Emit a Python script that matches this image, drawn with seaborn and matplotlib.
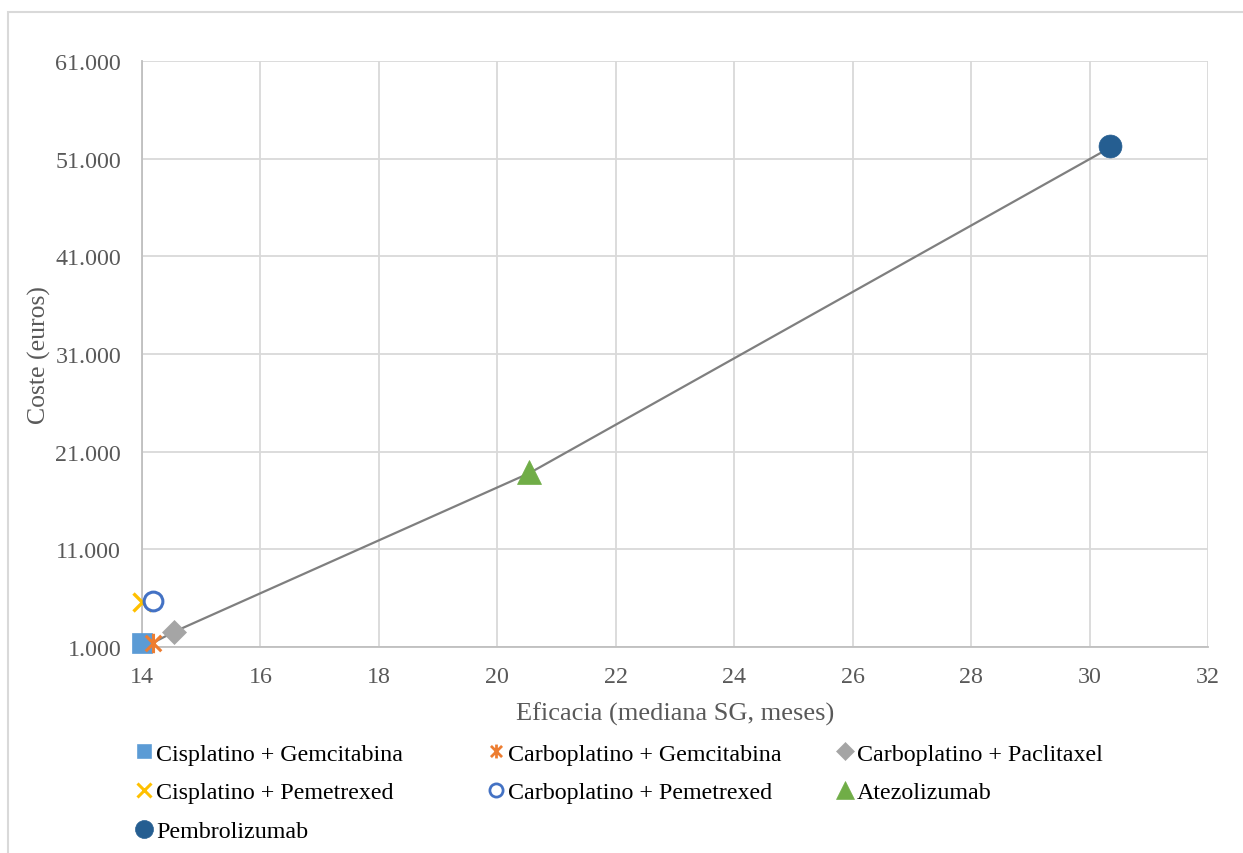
import matplotlib
matplotlib.use("Agg")
import matplotlib.pyplot as plt
from matplotlib.lines import Line2D
from matplotlib.patches import Rectangle
from matplotlib.path import Path
from matplotlib.ticker import FuncFormatter, FixedLocator
import seaborn as sns
import pandas as pd

# Treatments: median overall survival (months) and cost (euros)
treatments = [
    "Cisplatino + Gemcitabina",
    "Carboplatino + Gemcitabina",
    "Carboplatino + Paclitaxel",
    "Cisplatino + Pemetrexed",
    "Carboplatino + Pemetrexed",
    "Atezolizumab",
    "Pembrolizumab",
]
efficacy = [14.0, 14.19, 14.54, 14.0, 14.19, 20.54, 30.35]
cost = [1450, 1400, 2550, 5600, 5700, 18900, 52300]

# Efficiency frontier
frontier_x = [14.08, 14.54, 20.54, 30.22]
frontier_y = [1100, 2550, 18800, 51700]

x_ticks = [14, 16, 18, 20, 22, 24, 26, 28, 30, 32]
y_ticks = [1000, 11000, 21000, 31000, 41000, 51000, 61000]

# Excel-style "star" marker: an X crossed by a vertical bar
star = Path(
    [(-1, -1), (1, 1), (-1, 1), (1, -1), (0, -1.25), (0, 1.25)],
    [Path.MOVETO, Path.LINETO, Path.MOVETO, Path.LINETO, Path.MOVETO, Path.LINETO],
)

styles = {
    "Cisplatino + Gemcitabina": dict(marker="s", face="#5B9BD5", edge="#5B9BD5", size=14, lw=0.5, lsize=9.5),
    "Carboplatino + Gemcitabina": dict(marker=star, face="none", edge="#ED7D31", size=14, lw=2.2, lsize=10),
    "Carboplatino + Paclitaxel": dict(marker="D", face="#A5A5A5", edge="#A5A5A5", size=12.5, lw=0.5, lsize=9.5),
    "Cisplatino + Pemetrexed": dict(marker="x", face="#FFC000", edge="#FFC000", size=13.5, lw=2.4, lsize=9.5),
    "Carboplatino + Pemetrexed": dict(marker="o", face="white", edge="#4472C4", size=13.5, lw=2.2, lsize=9.5),
    "Atezolizumab": dict(marker="^", face="#70AD47", edge="#70AD47", size=17, lw=0.5, lsize=13),
    "Pembrolizumab": dict(marker="o", face="#255E91", edge="#255E91", size=16.5, lw=0.5, lsize=13),
}

sns.set_theme(style="white")
plt.rcParams["font.family"] = ["Liberation Serif", "DejaVu Serif"]

fig = plt.figure(figsize=(12.43, 8.54), dpi=100)
W, H = 1243, 854
ax = fig.add_axes([142 / W, 1 - 648 / H, (1208 - 142) / W, (648 - 62) / H])

df = pd.DataFrame({"x": frontier_x, "y": frontier_y})
sns.lineplot(data=df, x="x", y="y", sort=False, color="#7F7F7F", lw=1.6, ax=ax, zorder=3)

for name, xv, yv in zip(treatments, efficacy, cost):
    st = styles[name]
    ax.plot([xv], [yv], linestyle="none", marker=st["marker"], markersize=st["size"],
            markerfacecolor=st["face"], markeredgecolor=st["edge"],
            markeredgewidth=st["lw"], zorder=4, clip_on=False)

ax.set_xlim(14, 32)
ax.set_ylim(1000, 61000)
ax.xaxis.set_major_locator(FixedLocator(x_ticks))
ax.yaxis.set_major_locator(FixedLocator(y_ticks))
ax.yaxis.set_major_formatter(FuncFormatter(lambda v, p: f"{v:,.0f}".replace(",", ".")))
ax.grid(True, color="#D9D9D9", lw=1.3)
for side in ["top", "right"]:
    ax.spines[side].set_visible(False)
for side in ["left", "bottom"]:
    ax.spines[side].set_color("#BFBFBF")
    ax.spines[side].set_linewidth(1.3)
ax.tick_params(axis="both", length=0, labelsize=17.3, labelcolor="#595959")
ax.tick_params(axis="x", pad=14)
ax.tick_params(axis="y", pad=15)

ax.set_xlabel("Eficacia (mediana SG, meses)", fontsize=19, color="#595959", labelpad=10)
ax.set_ylabel("Coste (euros)", fontsize=18.5, color="#595959", labelpad=3)

# Legend laid out in three evenly spaced columns
columns = [
    ["Cisplatino + Gemcitabina", "Cisplatino + Pemetrexed", "Pembrolizumab"],
    ["Carboplatino + Gemcitabina", "Carboplatino + Pemetrexed"],
    ["Carboplatino + Paclitaxel", "Atezolizumab"],
]
col_x = [137, 489, 838]
for cx, names in zip(col_x, columns):
    handles = []
    for n in names:
        st = styles[n]
        handles.append(Line2D([], [], linestyle="none", marker=st["marker"],
                              markersize=st["lsize"], markerfacecolor=st["face"],
                              markeredgecolor=st["edge"], markeredgewidth=st["lw"] * 0.9))
    fig.legend(handles, names, loc="upper left", bbox_to_anchor=(cx / W, 1 - 744 / H),
               frameon=False, fontsize=17.3, handlelength=0.6, handletextpad=0.2,
               labelspacing=0.7, borderpad=0, borderaxespad=0, labelcolor="black")

# Chart area border
fig.patches.append(Rectangle((8 / W, -0.1), 1.2, 1 - 13 / H + 0.1, transform=fig.transFigure,
                             fill=False, edgecolor="#D9D9D9", lw=1.5))

fig.savefig("out.png", dpi=100)
